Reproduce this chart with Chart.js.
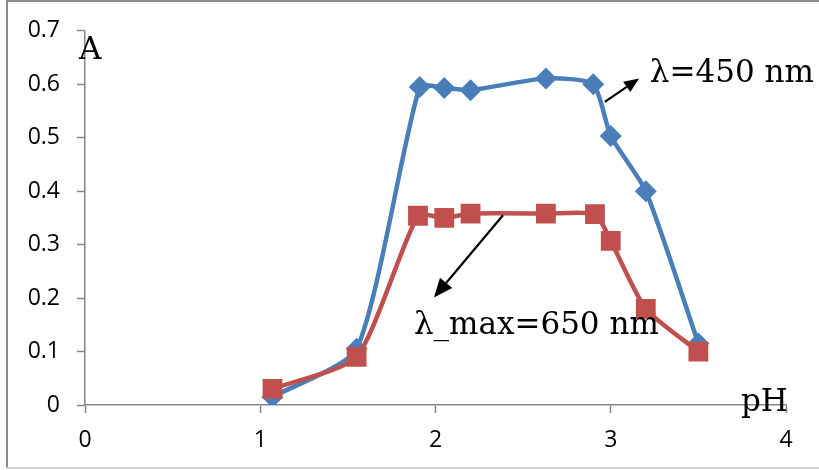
<!DOCTYPE html>
<html>
<head>
<meta charset="utf-8">
<script src="https://cdn.jsdelivr.net/npm/chart.js@4.4.1/dist/chart.umd.min.js"></script>
<style>
  html, body { margin: 0; padding: 0; background: #fff; }
  #wrap { position: relative; width: 819px; height: 470px; }
</style>
</head>
<body>
<div id="wrap"><canvas id="phChart" width="819" height="470"></canvas></div>
<script>
// pH values
const phBlue = [1.07, 1.55, 1.91, 2.05, 2.20, 2.63, 2.90, 3.00, 3.20, 3.50];
const absBlue = [0.015, 0.105, 0.595, 0.593, 0.589, 0.611, 0.600, 0.503, 0.400, 0.115];
const phRed = [1.07, 1.55, 1.90, 2.05, 2.20, 2.63, 2.91, 3.00, 3.20, 3.50];
const absRed = [0.030, 0.090, 0.354, 0.350, 0.358, 0.358, 0.357, 0.307, 0.180, 0.100];
const xTicks = [0, 1, 2, 3, 4];
const yTicks = [0, 0.1, 0.2, 0.3, 0.4, 0.5, 0.6, 0.7];

const labelBlue = "λ=450 nm";
const labelRed = "λ_max=650 nm";
const axisTitleY = "A";
const axisTitleX = "pH";

const toPoints = (xs, ys) => xs.map((x, i) => ({x: x, y: ys[i]}));

// text + arrow annotations, placed in data units
const notes = [
    {text: labelBlue, x: 3.223, y: 0.604},
    {text: labelRed, x: 1.877, y: 0.133},
    {text: axisTitleY, x: -0.034, y: 0.647},
    {text: axisTitleX, x: 3.743, y: -0.011}
];
const arrows = [
    {from: [2.966, 0.567], to: [3.162, 0.611], head: 15},
    {from: [2.385, 0.355], to: [1.991, 0.201], head: 19}
];

const framePlugin = {
    id: "frame",
    beforeDraw(chart) {
        const ctx = chart.ctx;
        ctx.save();
        ctx.strokeStyle = "#8c8c8c";
        ctx.lineWidth = 2;
        ctx.beginPath();
        ctx.moveTo(820, 1);
        ctx.lineTo(7, 1);
        ctx.lineTo(7, 468);
        ctx.stroke();
        ctx.strokeStyle = "#d0d0d0";
        ctx.beginPath();
        ctx.moveTo(7, 468);
        ctx.lineTo(820, 468);
        ctx.stroke();
        ctx.restore();
    }
};

const notesPlugin = {
    id: "notes",
    afterDatasetsDraw(chart) {
        const ctx = chart.ctx;
        const xs = chart.scales.x, ys = chart.scales.y;
        ctx.save();
        ctx.fillStyle = "#000";
        ctx.font = "31px 'DejaVu Serif'";
        ctx.textBaseline = "alphabetic";
        ctx.textAlign = "left";
        notes.forEach(n => {
            ctx.fillText(n.text, xs.getPixelForValue(n.x), ys.getPixelForValue(n.y));
        });
        ctx.strokeStyle = "#000";
        ctx.lineWidth = 2.2;
        arrows.forEach(a => {
            const x0 = xs.getPixelForValue(a.from[0]), y0 = ys.getPixelForValue(a.from[1]);
            const x1 = xs.getPixelForValue(a.to[0]), y1 = ys.getPixelForValue(a.to[1]);
            const ang = Math.atan2(y1 - y0, x1 - x0);
            const h = a.head, w = h * 0.42;
            const bx = x1 - Math.cos(ang) * h, by = y1 - Math.sin(ang) * h;
            ctx.beginPath();
            ctx.moveTo(x0, y0);
            ctx.lineTo(bx, by);
            ctx.stroke();
            ctx.beginPath();
            ctx.moveTo(x1, y1);
            ctx.lineTo(bx + Math.sin(ang) * w, by - Math.cos(ang) * w);
            ctx.lineTo(bx - Math.sin(ang) * w, by + Math.cos(ang) * w);
            ctx.closePath();
            ctx.fill();
        });
        ctx.restore();
    }
};

const ctx = document.getElementById("phChart").getContext("2d");

const data = {
    datasets: [{
        label: labelRed,
        data: toPoints(phRed, absRed),
        borderColor: "#C0504D",
        backgroundColor: "#C0504D",
        borderWidth: 4.5,
        pointStyle: "rect",
        pointRadius: 14,
        pointBorderWidth: 0,
        tension: 0.2,
        order: 1
    },
    {
        label: labelBlue,
        data: toPoints(phBlue, absBlue),
        borderColor: "#4A7EBB",
        backgroundColor: "#4A7EBB",
        borderWidth: 4.5,
        pointStyle: "rectRot",
        pointRadius: 11,
        pointBorderWidth: 0,
        tension: 0.2,
        order: 2
    }]
};

const tickFont = {family: "'Open Sans'", size: 23};

const options = {
    responsive: false,
    animation: false,
    layout: {
        padding: {top: 30, right: 33, left: 0, bottom: 0}
    },
    plugins: {
        legend: {display: false},
        tooltip: {enabled: false}
    },
    scales: {
        x: {
            type: "linear",
            min: 0,
            max: 4,
            afterBuildTicks: (scale) => { scale.ticks = xTicks.map(v => ({value: v})); },
            afterFit: (scale) => { scale.height = 65; },
            grid: {drawOnChartArea: false, drawTicks: true, tickLength: 8, tickColor: "#868686", tickWidth: 1.5},
            border: {display: true, color: "#868686", width: 1.5},
            ticks: {color: "#000", font: tickFont, padding: 14}
        },
        y: {
            min: 0,
            max: 0.7,
            afterBuildTicks: (scale) => { scale.ticks = yTicks.map(v => ({value: v})); },
            afterFit: (scale) => { scale.width = 85; },
            grid: {drawOnChartArea: false, drawTicks: true, tickLength: 8, tickColor: "#868686", tickWidth: 1.5},
            border: {display: true, color: "#868686", width: 1.5},
            ticks: {
                color: "#000",
                font: tickFont,
                padding: 17,
                callback: (v) => (v === 0 ? "0" : v.toFixed(1))
            }
        }
    }
};

const phChart = new Chart(ctx, {
    type: "line",
    data: data,
    options: options,
    plugins: [framePlugin, notesPlugin]
});
</script>
</body>
</html>
